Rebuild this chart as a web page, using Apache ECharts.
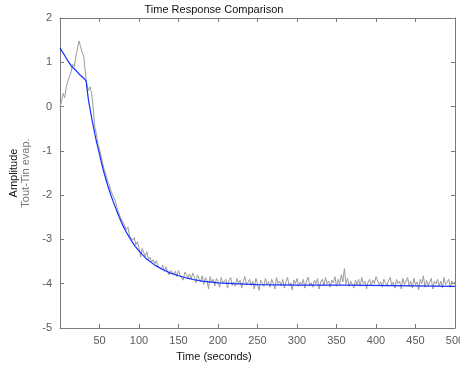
<!DOCTYPE html>
<html>
<head>
<meta charset="utf-8">
<script src="https://cdn.jsdelivr.net/npm/echarts@6/dist/echarts.min.js"></script>
<style>
  html, body { margin: 0; padding: 0; background: #fff; }
  #chart { width: 460px; height: 370px; }
</style>
</head>
<body>
<div id="chart"></div>
<script>
// measured response, one sample every 2 s from t = 0
var measStep = 2;
var measValues = [
  0.00, 0.12, 0.30, 0.20, 0.45, 0.58, 0.55, 0.78, 0.95, 0.90,
  1.12, 1.15, 1.48, 1.36, 1.22, 1.14, 0.80, 0.50, 0.36, 0.45,
  0.30, -0.02, -0.45, -0.62, -0.85, -0.96, -1.12, -1.28, -1.42, -1.53,
  -1.68, -1.74, -1.88, -1.92, -2.05, -2.12, -2.28, -2.32, -2.48, -2.44,
  -2.62, -2.58, -2.78, -2.72, -2.92, -2.88, -3.02, -2.96, -3.12, -3.05,
  -3.18, -3.40, -3.20, -3.30, -3.38, -3.28, -3.45, -3.40, -3.52, -3.46,
  -3.55, -3.48, -3.60, -3.56, -3.68, -3.58, -3.72, -3.62, -3.66, -3.80,
  -3.70, -3.68, -3.78, -3.72, -3.84, -3.70, -3.80, -3.76, -3.92, -3.74,
  -3.72, -3.86, -3.78, -3.90, -3.76, -3.84, -3.98, -3.80, -3.88, -3.95,
  -3.82, -4.02, -3.86, -3.92, -4.12, -3.84, -3.96, -3.90, -4.05, -3.88,
  -3.94, -4.08, -3.86, -3.98, -4.02, -3.90, -4.10, -3.92, -3.86, -4.04,
  -3.96, -4.06, -3.88, -4.00, -3.92, -4.10, -3.95, -3.84, -4.02, -3.97,
  -3.90, -4.04, -3.94, -4.12, -3.88, -4.00, -4.15, -3.92, -3.98, -4.06,
  -3.88, -4.02, -3.95, -4.08, -3.90, -3.99, -4.12, -3.86, -4.00, -3.94,
  -4.05, -3.90, -4.10, -3.96, -3.86, -4.04, -3.98, -4.14, -3.92, -4.00,
  -3.88, -4.06, -3.96, -4.02, -3.90, -4.10, -3.94, -3.85, -4.04, -3.98,
  -4.08, -3.92, -4.00, -3.88, -4.12, -3.96, -3.90, -4.04, -3.86, -4.00,
  -3.94, -4.08, -3.92, -3.98, -3.84, -4.06, -3.90, -4.02, -3.80, -3.96,
  -3.66, -4.00, -3.88, -4.06, -3.94, -3.98, -4.10, -3.92, -4.02, -3.90,
  -4.06, -3.86, -4.00, -3.94, -4.12, -3.96, -3.90, -4.04, -3.92, -4.00,
  -3.84, -3.80, -4.02, -3.96, -4.08, -3.90, -3.98, -4.06, -3.92, -3.86,
  -4.04, -3.96, -4.10, -3.90, -4.00, -3.94, -4.12, -3.88, -4.02, -3.98,
  -3.86, -4.06, -3.94, -4.10, -3.88, -4.02, -3.96, -4.14, -3.90, -4.00,
  -3.82, -4.08, -3.92, -4.04, -3.96, -3.88, -4.12, -3.94, -4.00, -3.90,
  -4.06, -3.94, -4.10, -3.86, -4.02, -3.98, -3.90, -4.08, -3.94, -4.00,
  -3.96
];

// model response
var modelTime = [0, 5, 10, 15, 20, 25, 30, 33, 36, 40, 45, 50, 55, 60, 65, 70, 75, 80, 85, 90,
  95, 100, 110, 120, 130, 140, 150, 160, 170, 180, 200, 220, 250, 300, 365, 366, 500];
var modelValues = [1.32, 1.18, 1.03, 0.90, 0.82, 0.72, 0.64, 0.58, 0.15, -0.25, -0.70, -1.08, -1.45, -1.76, -2.03, -2.27, -2.50, -2.70, -2.87, -3.02,
  -3.15, -3.26, -3.45, -3.58, -3.68, -3.76, -3.82, -3.87, -3.91, -3.94, -3.98, -4.00, -4.02, -4.03, -4.03, -4.06, -4.06];

var xTicks = [0, 500, 50];   // min, max, interval
var yTicks = [-5, 2, 1];

var measData = measValues.map(function (v, i) { return [i * measStep, v]; });
var modelData = modelTime.map(function (t, i) { return [t, modelValues[i]]; });

var font = 'Liberation Sans, Arial, sans-serif';
var axisColor = '#7a7a7a';
var labelColor = '#5a5a5a';

function xAx(pos, showLabel) {
  return {
    type: 'value', position: pos, min: xTicks[0], max: xTicks[1], interval: xTicks[2],
    axisLine: { show: true, onZero: false, lineStyle: { color: axisColor, width: 1 } },
    axisTick: { show: true, inside: true, length: 4, lineStyle: { color: axisColor } },
    axisLabel: { show: showLabel, showMinLabel: false, color: labelColor, fontFamily: font, fontSize: 11, margin: 7 },
    splitLine: { show: false }
  };
}
function yAx(pos, showLabel) {
  return {
    type: 'value', position: pos, min: yTicks[0], max: yTicks[1], interval: yTicks[2],
    axisLine: { show: true, onZero: false, lineStyle: { color: axisColor, width: 1 } },
    axisTick: { show: true, inside: true, length: 4, lineStyle: { color: axisColor } },
    axisLabel: { show: showLabel, color: labelColor, fontFamily: font, fontSize: 11, margin: 8 },
    splitLine: { show: false }
  };
}

var chart = echarts.init(document.getElementById('chart'));
chart.setOption({
  animation: false,
  backgroundColor: '#fff',
  grid: { left: 60, right: 5, top: 18, bottom: 42, containLabel: false, outerBoundsMode: 'none' },
  xAxis: [xAx('bottom', true), xAx('top', false)],
  yAxis: [yAx('left', true), yAx('right', false)],
  graphic: [
    { type: 'text', x: 214, y: 10, style: { text: 'Time Response Comparison', fill: '#111', font: '11px ' + font, align: 'center', verticalAlign: 'middle' } },
    { type: 'text', x: 214, y: 357, style: { text: 'Time (seconds)', fill: '#111', font: '11px ' + font, align: 'center', verticalAlign: 'middle' } },
    { type: 'text', x: 14, y: 173, rotation: Math.PI / 2, style: { text: 'Amplitude', fill: '#111', font: '11px ' + font, align: 'center', verticalAlign: 'middle' } },
    { type: 'text', x: 26, y: 173, rotation: Math.PI / 2, style: { text: 'Tout-Tin evap.', fill: '#777', font: '11px ' + font, align: 'center', verticalAlign: 'middle' } }
  ],
  series: [
    {
      type: 'line', data: measData, showSymbol: false, symbol: 'none',
      lineStyle: { color: '#9c9c9c', width: 1 }, z: 2
    },
    {
      type: 'line', data: modelData, showSymbol: false, symbol: 'none',
      lineStyle: { color: '#1030ff', width: 1.2 }, z: 3
    }
  ]
});
</script>
</body>
</html>
